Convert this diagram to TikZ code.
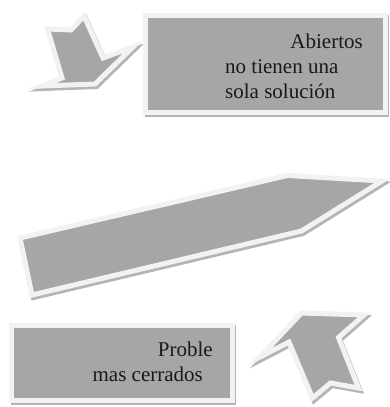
\documentclass[tikz,border=0pt]{standalone}
\usepackage{fontspec}
\setmainfont{Liberation Serif}
\definecolor{gfill}{HTML}{A6A6A6}
\definecolor{gedge}{HTML}{F2F2F2}
\definecolor{gshadow}{HTML}{B4B4B4}
\begin{document}
\begin{tikzpicture}[x=1pt,y=-1pt,
  shp/.style={fill=gfill, draw=gedge, line width=5pt, line join=miter, miter limit=6},
  shd/.style={fill=gshadow, draw=gshadow, line width=5pt, line join=miter, miter limit=6},
  txt/.style={font=\fontsize{21}{25}\selectfont, text=black!90, inner sep=0pt}]
\useasboundingbox[fill=white] (0,0) rectangle (389,407);
% shadows
\begin{scope}[shift={(1.5,2.5)}]
  \path[shd] (145.5,15) rectangle (385,112);
  \path[shd] (11.5,325) rectangle (232,400);
  \path[shd] (47.5,29) -- (71,30) -- (84,16) -- (103,58) -- (133,47) -- (95,84) -- (42,86) -- (62,78) -- cycle;
  \path[shd] (20,238) -- (287.5,175.5) -- (382,181) -- (301.5,231) -- (32,295) -- cycle;
  \path[shd] (301.5,313) -- (364,315) -- (338.5,337.5) -- (358.5,388) -- (330.5,383) -- (312.5,398) -- (289,342) -- (260,357) -- cycle;
\end{scope}
% shapes
\path[shp] (145.5,15) rectangle (385,112);
\path[shp] (11.5,325) rectangle (232,400);
\path[shp] (47.5,29) -- (71,30) -- (84,16) -- (103,58) -- (133,47) -- (95,84) -- (42,86) -- (62,78) -- cycle;
\path[shp] (20,238) -- (287.5,175.5) -- (382,181) -- (301.5,231) -- (32,295) -- cycle;
\path[shp] (301.5,313) -- (364,315) -- (338.5,337.5) -- (358.5,388) -- (330.5,383) -- (312.5,398) -- (289,342) -- (260,357) -- cycle;
% texts
\node[txt, anchor=base east] (t1) at (363,48) {Abiertos};
\node[txt, anchor=base west] (t2) at (225,73) {no tienen una};
\node[txt, anchor=base west] (t3) at (225,98) {sola solución};
\node[txt, anchor=base east] (b1) at (213,356) {Proble};
\node[txt, anchor=base east] (b2) at (203,381) {mas cerrados};
\end{tikzpicture}
\end{document}
